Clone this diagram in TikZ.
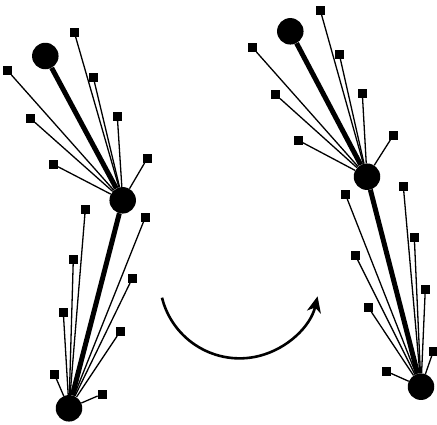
\documentclass[tikz,border=0pt]{standalone}
\usetikzlibrary{arrows.meta}
\tikzset{
  hub/.style={circle,fill=black,inner sep=0pt,minimum size=26.5pt},
  leaf/.style={rectangle,fill=black,inner sep=0pt,minimum size=9pt},
  spoke/.style={line width=1.3pt},
  stem/.style={line width=5pt},
  turn/.style={line width=2.6pt,-{Stealth[length=16pt,width=14pt,inset=4.5pt]}}
}
\begin{document}
\begin{tikzpicture}[x=1pt,y=-1pt]
\useasboundingbox (0,0) rectangle (437,424);
% ---------- left figure ----------
\node[hub] (LT) at (45.3,56) {};
\node[hub] (LM) at (122.7,200.3) {};
\node[hub] (LB) at (69,408.3) {};
\node[leaf] (la1) at (74.3,32.3) {};
\node[leaf] (la2) at (7.3,70.3) {};
\node[leaf] (la3) at (93.3,77.3) {};
\node[leaf] (la4) at (30.3,118.3) {};
\node[leaf] (la5) at (117.3,116.3) {};
\node[leaf] (la6) at (147.3,158.3) {};
\node[leaf] (la7) at (53.3,164.3) {};
\node[leaf] (lb1) at (85.3,209.3) {};
\node[leaf] (lb2) at (145.3,217.3) {};
\node[leaf] (lb3) at (73.3,259.3) {};
\node[leaf] (lb4) at (132.3,278.3) {};
\node[leaf] (lb5) at (63.3,312.3) {};
\node[leaf] (lb6) at (120.3,331.3) {};
\node[leaf] (lb7) at (54.3,374) {};
\node[leaf] (lb8) at (102.3,394) {};
\draw[stem] (LT) -- (LM);
\draw[stem] (LM) -- (LB);
\foreach \n in {la1,la2,la3,la4,la5,la6,la7} \draw[spoke] (\n) -- (LM);
\foreach \n in {lb1,lb2,lb3,lb4,lb5,lb6,lb7,lb8} \draw[spoke] (\n) -- (LB);
% ---------- right figure ----------
\node[hub] (RT) at (290.3,31.3) {};
\node[hub] (RM) at (367,176.7) {};
\node[hub] (RB) at (421,386.7) {};
\node[leaf] (ra1) at (320.3,10.3) {};
\node[leaf] (ra2) at (252.3,47.3) {};
\node[leaf] (ra3) at (339.3,54.3) {};
\node[leaf] (ra4) at (275.3,94.3) {};
\node[leaf] (ra5) at (362.3,93.3) {};
\node[leaf] (ra6) at (393.3,135.3) {};
\node[leaf] (ra7) at (298.3,140.3) {};
\node[leaf] (rb1) at (403.3,186) {};
\node[leaf] (rb2) at (345.3,194) {};
\node[leaf] (rb3) at (414.3,237.3) {};
\node[leaf] (rb4) at (355.3,255.3) {};
\node[leaf] (rb5) at (425.3,289) {};
\node[leaf] (rb6) at (368.3,307.3) {};
\node[leaf] (rb7) at (433.3,351.3) {};
\node[leaf] (rb8) at (386.3,371.3) {};
\draw[stem] (RT) -- (RM);
\draw[stem] (RM) -- (RB);
\foreach \n in {ra1,ra2,ra3,ra4,ra5,ra6,ra7} \draw[spoke] (\n) -- (RM);
\foreach \n in {rb1,rb2,rb3,rb4,rb5,rb6,rb7,rb8} \draw[spoke] (\n) -- (RB);
% ---------- curved arrow ----------
\coordinate (arcstart) at (162,297.7);
\draw[turn] (arcstart) arc[start angle=166, end angle=13, radius=80];
\end{tikzpicture}
\end{document}
